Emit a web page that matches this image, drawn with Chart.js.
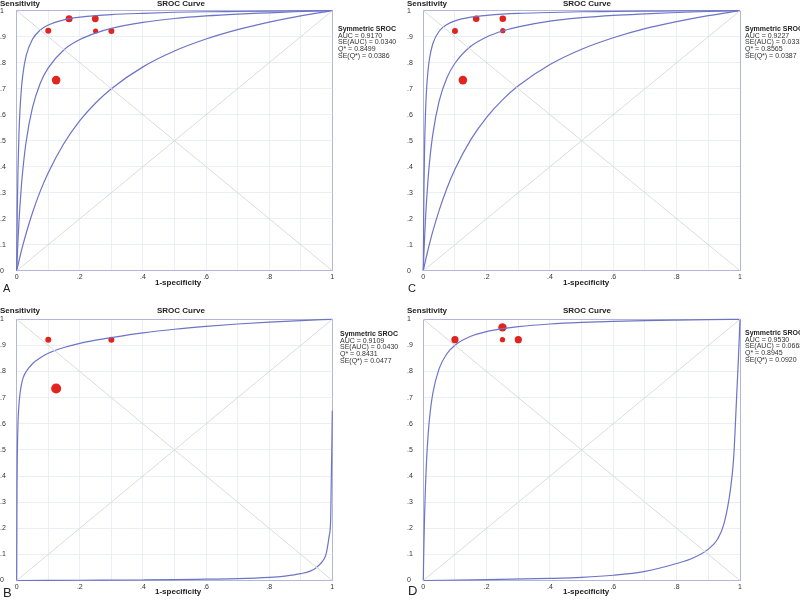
<!DOCTYPE html>
<html>
<head>
<meta charset="utf-8">
<script src="https://cdn.jsdelivr.net/npm/chart.js@4.4.0/dist/chart.umd.min.js"></script>
<style>
  body { margin: 0; width: 800px; height: 600px; background: #fff; position: relative; overflow: hidden;
         font-family: "Liberation Sans", Arial, sans-serif; color: #222; }
  canvas { position: absolute; }
  .t { position: absolute; white-space: nowrap; font-size: 8px; font-weight: bold; line-height: 8px; }
  .stats { position: absolute; white-space: nowrap; font-size: 7px; line-height: 6.7px; color: #333; }
  .stats b { color: #222; }
  .letter { position: absolute; font-size: 11px; line-height: 11px; }
</style>
</head>
<body>
<canvas id="chartA" width="400" height="300" style="left:0;top:0"></canvas>
<canvas id="chartC" width="400" height="300" style="left:407px;top:0"></canvas>
<canvas id="chartB" width="400" height="300" style="left:0;top:300px"></canvas>
<canvas id="chartD" width="400" height="300" style="left:407px;top:300px"></canvas>

<div class="t" style="left:0;top:0">Sensitivity</div>
<div class="t" style="left:157px;top:0">SROC Curve</div>
<div class="t" style="left:155px;top:279px">1-specificity</div>
<div class="stats" style="left:338px;top:26px"><b>Symmetric SROC</b><br>AUC = 0.9170<br>SE(AUC) = 0.0340<br>Q* = 0.8499<br>SE(Q*) = 0.0386</div>
<div class="letter" style="left:3px;top:283px">A</div>

<div class="t" style="left:407px;top:0">Sensitivity</div>
<div class="t" style="left:563px;top:0">SROC Curve</div>
<div class="t" style="left:563px;top:279px">1-specificity</div>
<div class="stats" style="left:745px;top:26px"><b>Symmetric SROC</b><br>AUC = 0.9227<br>SE(AUC) = 0.0333<br>Q* = 0.8565<br>SE(Q*) = 0.0387</div>
<div class="letter" style="left:408px;top:283px">C</div>

<div class="t" style="left:0;top:307px">Sensitivity</div>
<div class="t" style="left:157px;top:307px">SROC Curve</div>
<div class="t" style="left:155px;top:588px">1-specificity</div>
<div class="stats" style="left:340px;top:331px"><b>Symmetric SROC</b><br>AUC = 0.9109<br>SE(AUC) = 0.0430<br>Q* = 0.8431<br>SE(Q*) = 0.0477</div>
<div class="letter" style="left:3px;top:587px;font-size:13px">B</div>

<div class="t" style="left:407px;top:307px">Sensitivity</div>
<div class="t" style="left:563px;top:307px">SROC Curve</div>
<div class="t" style="left:563px;top:588px">1-specificity</div>
<div class="stats" style="left:745px;top:330px"><b>Symmetric SROC</b><br>AUC = 0.9530<br>SE(AUC) = 0.0668<br>Q* = 0.8945<br>SE(Q*) = 0.0920</div>
<div class="letter" style="left:408px;top:585px;font-size:13px">D</div>

<script>
// study points: 1-specificity, sensitivity, weight (marker radius)
var fprA = [0.100, 0.166, 0.249, 0.250, 0.300, 0.125];
var sensA = [0.923, 0.969, 0.969, 0.922, 0.922, 0.733];
var weightA = [3.0, 3.5, 3.4, 2.6, 3.0, 4.3];

var fprC = [0.100, 0.167, 0.251, 0.251, 0.125];
var sensC = [0.922, 0.969, 0.969, 0.923, 0.733];
var weightC = [3.0, 3.3, 3.3, 2.6, 4.3];

var fprB = [0.100, 0.300, 0.125];
var sensB = [0.922, 0.922, 0.735];
var weightB = [3.0, 3.0, 5.0];

var fprD = [0.100, 0.250, 0.250, 0.300];
var sensD = [0.922, 0.969, 0.922, 0.922];
var weightD = [3.6, 4.2, 2.6, 3.6];

// SROC curves
var curveX = [0, 0.001, 0.002, 0.004, 0.007, 0.01, 0.015, 0.02, 0.03, 0.05, 0.075, 0.1, 0.15, 0.2, 0.25, 0.3, 0.4, 0.5, 0.6, 0.7, 0.8, 0.9, 1];
var upperA  = [0, 0.134, 0.236, 0.383, 0.521, 0.609, 0.702, 0.759, 0.827, 0.890, 0.926, 0.945, 0.965, 0.975, 0.981, 0.985, 0.990, 0.994, 0.996, 0.997, 0.998, 0.999, 1];
var middleA = [0, 0.031, 0.060, 0.114, 0.184, 0.244, 0.328, 0.395, 0.497, 0.627, 0.722, 0.780, 0.850, 0.889, 0.914, 0.932, 0.955, 0.970, 0.980, 0.987, 0.992, 0.997, 1];
var lowerA  = [0, 0.005, 0.011, 0.021, 0.037, 0.052, 0.077, 0.100, 0.144, 0.223, 0.307, 0.377, 0.490, 0.577, 0.645, 0.700, 0.784, 0.845, 0.891, 0.927, 0.956, 0.980, 1];
var upperC  = [0, 0.181, 0.307, 0.471, 0.609, 0.691, 0.771, 0.819, 0.873, 0.921, 0.947, 0.961, 0.975, 0.982, 0.987, 0.990, 0.993, 0.996, 0.997, 0.998, 0.999, 0.9995, 1];
var middleC = [0, 0.034, 0.067, 0.125, 0.201, 0.264, 0.352, 0.421, 0.524, 0.652, 0.743, 0.798, 0.863, 0.899, 0.922, 0.938, 0.960, 0.973, 0.982, 0.988, 0.993, 0.997, 1];
var lowerC  = [0, 0.006, 0.011, 0.023, 0.039, 0.055, 0.081, 0.105, 0.151, 0.232, 0.318, 0.390, 0.504, 0.590, 0.657, 0.711, 0.793, 0.852, 0.896, 0.931, 0.958, 0.981, 1];
var upperB  = [0, 0.350, 0.480, 0.600, 0.670, 0.710, 0.750, 0.775, 0.800, 0.830, 0.853, 0.870, 0.892, 0.908, 0.920, 0.930, 0.948, 0.962, 0.973, 0.982, 0.989, 0.995, 1];
var upperD  = [0, 0.075, 0.140, 0.247, 0.365, 0.452, 0.554, 0.625, 0.716, 0.811, 0.869, 0.901, 0.935, 0.953, 0.964, 0.972, 0.982, 0.988, 0.992, 0.995, 0.997, 0.9986, 1];

var tailX = [0, 0.2, 0.4, 0.5, 0.6, 0.7, 0.8, 0.85, 0.9, 0.93, 0.95, 0.97, 0.98, 0.99, 0.995, 1];
var tailB = [0, 0.001, 0.002, 0.003, 0.005, 0.007, 0.012, 0.017, 0.026, 0.036, 0.05, 0.075, 0.1, 0.17, 0.24, 0.65];
var tailD = [0, 0.003, 0.008, 0.012, 0.02, 0.035, 0.065, 0.085, 0.12, 0.16, 0.22, 0.35, 0.47, 0.72, 0.85, 1];

var diagX = [0, 1];
var diagUp = [0, 1];
var diagDown = [1, 0];

var curveColor = '#6d74c6';
var pointColor = '#e2231e';
var gridColor = '#eceef5';
var frameColor = '#b2b6d8';
var diagColor = '#dcdcdc';

function pts(xs, ys) {
  return xs.map(function (x, i) { return { x: x, y: ys[i] }; });
}

function fmt(v) {
  var r = Math.round(v * 10);
  if (r === 0) return '0';
  if (r === 10) return '1';
  return '.' + r;
}

function lineSet(xs, ys, color, width) {
  return {
    type: 'line',
    data: pts(xs, ys),
    borderColor: color,
    borderWidth: width,
    pointRadius: 0,
    fill: false,
    cubicInterpolationMode: 'monotone',
    clip: false
  };
}

function makeChart(id, fpr, sens, weight, curves, tails, geom) {
  var datasets = [
    lineSet(diagX, diagUp, diagColor, 1),
    lineSet(diagX, diagDown, diagColor, 1)
  ];
  curves.forEach(function (c) { datasets.push(lineSet(curveX, c, curveColor, 1.2)); });
  tails.forEach(function (c) { datasets.push(lineSet(tailX, c, curveColor, 1.2)); });
  datasets.push({
    type: 'scatter',
    data: pts(fpr, sens),
    backgroundColor: pointColor,
    borderColor: pointColor,
    borderWidth: 0,
    pointRadius: weight,
    clip: false
  });
  new Chart(document.getElementById(id), {
    type: 'scatter',
    data: { datasets: datasets },
    options: {
      responsive: false,
      animation: false,
      devicePixelRatio: 1,
      layout: { padding: { left: 0, top: geom.top, right: geom.right, bottom: geom.bottom } },
      plugins: { legend: { display: false }, tooltip: { enabled: false } },
      scales: {
        x: {
          type: 'linear', min: 0, max: 1,
          afterFit: function (s) { s.height = 12; },
          grid: {
            drawTicks: false,
            color: function (c) { return (c.tick && c.tick.value > 0.999) ? frameColor : gridColor; }
          },
          border: { color: frameColor },
          ticks: {
            stepSize: 0.1, padding: 2, color: '#333', font: { size: 7, family: 'Liberation Sans' },
            maxRotation: 0, autoSkip: false,
            callback: function (v) { return Math.round(v * 10) % 2 === 0 ? fmt(v) : ''; }
          }
        },
        y: {
          type: 'linear', min: 0, max: 1,
          afterFit: function (s) { s.width = geom.left; },
          grid: {
            drawTicks: false,
            color: function (c) { return (c.tick && c.tick.value > 0.999) ? frameColor : gridColor; }
          },
          border: { color: frameColor },
          ticks: {
            stepSize: 0.1, padding: 2, color: '#333', font: { size: 7, family: 'Liberation Sans' },
            crossAlign: 'far', autoSkip: false,
            callback: function (v) { return fmt(v); }
          }
        }
      }
    }
  });
}

makeChart('chartA', fprA, sensA, weightA, [upperA, middleA, lowerA], [], { left: 16.7, top: 10.7, right: 67.7, bottom: 17.3 });
makeChart('chartC', fprC, sensC, weightC, [upperC, middleC, lowerC], [], { left: 16.3, top: 10.7, right: 67, bottom: 17.3 });
makeChart('chartB', fprB, sensB, weightB, [upperB], [tailB], { left: 16.7, top: 19.3, right: 67.7, bottom: 7.5 });
makeChart('chartD', fprD, sensD, weightD, [upperD], [tailD], { left: 16.3, top: 19.3, right: 67, bottom: 7.5 });
</script>
</body>
</html>
